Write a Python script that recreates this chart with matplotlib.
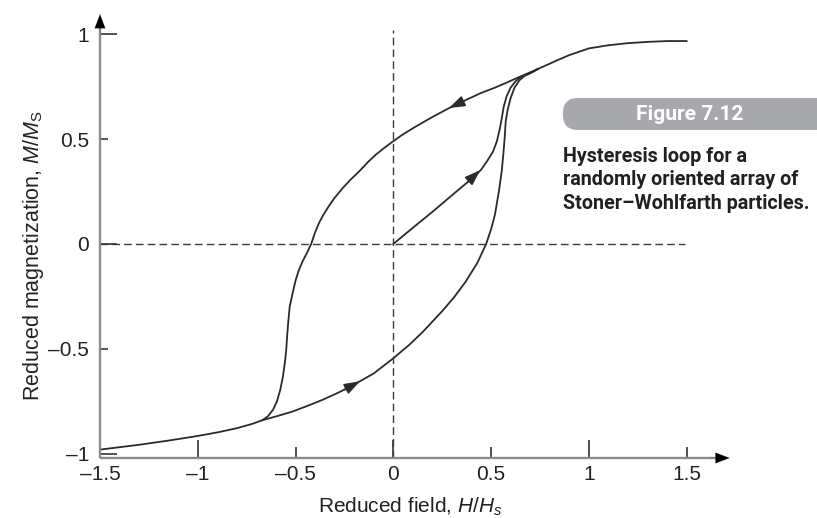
import matplotlib
matplotlib.use('Agg')
import matplotlib.pyplot as plt
from matplotlib.patches import FancyBboxPatch

plt.rcParams['font.family'] = ['Liberation Sans', 'DejaVu Sans']
plt.rcParams['mathtext.fontset'] = 'custom'
plt.rcParams['mathtext.rm'] = 'Liberation Sans'
plt.rcParams['mathtext.it'] = 'Liberation Sans:italic'

# upper branch, field going down from +1.5 to -1.5 (shares both tails)
upper_h = [1.50, 1.40, 1.30, 1.20, 1.10, 1.00, 0.90, 0.84, 0.79, 0.74, 0.68, 0.63, 0.57,
           0.52, 0.45, 0.38, 0.28, 0.20, 0.11, 0.046, 0.0, -0.05, -0.09, -0.13, -0.17,
           -0.22, -0.26, -0.30, -0.33, -0.36, -0.38, -0.40, -0.42, -0.44, -0.465, -0.485,
           -0.50, -0.515, -0.53, -0.537, -0.543, -0.548, -0.555, -0.565, -0.578, -0.595,
           -0.615, -0.64, -0.67, -0.72, -0.80, -0.90, -1.00, -1.15, -1.30, -1.50]
upper_m = [0.967, 0.967, 0.963, 0.957, 0.947, 0.932, 0.90, 0.876, 0.855, 0.834, 0.81, 0.79, 0.765,
           0.745, 0.72, 0.69, 0.645, 0.605, 0.557, 0.52, 0.49, 0.455, 0.425, 0.39, 0.35,
           0.305, 0.265, 0.22, 0.18, 0.135, 0.10, 0.055, 0.0, -0.04, -0.085, -0.13,
           -0.175, -0.235, -0.30, -0.37, -0.44, -0.51, -0.57, -0.635, -0.695, -0.75,
           -0.79, -0.82, -0.84, -0.857, -0.878, -0.898, -0.915, -0.937, -0.957, -0.98]

# lower branch, field going up, from the left closure point to the right one
lower_h = [-0.67, -0.60, -0.52, -0.44, -0.36, -0.28, -0.21, -0.10, 0.0, 0.08, 0.15, 0.25,
           0.31, 0.37, 0.43, 0.475, 0.50, 0.52, 0.54, 0.555, 0.563, 0.57, 0.575, 0.585,
           0.60, 0.62, 0.645, 0.67, 0.71, 0.74]
lower_m = [-0.84, -0.822, -0.80, -0.772, -0.742, -0.708, -0.675, -0.617, -0.545, -0.482, -0.42, -0.32,
           -0.255, -0.18, -0.09, 0.0, 0.07, 0.14, 0.25, 0.35, 0.43, 0.51, 0.585, 0.64,
           0.695, 0.745, 0.78, 0.80, 0.818, 0.834]

# initial magnetisation curve from the origin
init_h = [0.0, 0.10, 0.20, 0.30, 0.41, 0.45, 0.48, 0.51, 0.53, 0.545, 0.555, 0.565,
          0.58, 0.60, 0.625, 0.65, 0.70, 0.74]
init_m = [0.0, 0.077, 0.153, 0.232, 0.318, 0.355, 0.395, 0.44, 0.49, 0.55, 0.60, 0.655,
          0.705, 0.745, 0.775, 0.795, 0.815, 0.834]

# arrow heads on the curves: (tail h, tail m, tip h, tip m)
arrows = [(0.36, 0.681, 0.285, 0.648),
          (0.38, 0.295, 0.445, 0.352),
          (-0.25, -0.695, -0.17, -0.654)]

xticks_major = [-1, 0, 1]
xticks_minor = [-1.5, -0.5, 0.5, 1.5]
yticks_major = [-1, 0, 1]
yticks_minor = [-0.5, 0.5]

caption = ['Hysteresis loop for a', 'randomly oriented array of', 'Stoner\u2013Wohlfarth particles.']
tag = 'Figure 7.12'


def lab(v):
    s = ('%g' % v)
    return s.replace('-', '\u2013')


fig = plt.figure(figsize=(8.17, 5.18), dpi=100)
ax = fig.add_axes([100 / 817, 60 / 518, (733.5 - 100) / 817, (508 - 60) / 518])
ax.set_xlim(-1.5, 1.74)
ax.set_ylim(-1.02, 1.115)
for s in ax.spines.values():
    s.set_visible(False)

line_c = '#2b2b2b'
ax.plot(upper_h, upper_m, color=line_c, lw=1.3)
ax.plot(lower_h, lower_m, color=line_c, lw=1.3)
ax.plot(init_h, init_m, color=line_c, lw=1.3)

for t in arrows:
    ax.annotate('', xy=(t[2], t[3]), xytext=(t[0], t[1]),
                arrowprops=dict(arrowstyle='-|>,head_length=0.95,head_width=0.33',
                                color=line_c, lw=1.2, shrinkA=0, shrinkB=0))

# dashed guide lines
ax.plot([-1.5, 1.49], [0, 0], color='#3a3a3a', lw=1.0, dashes=(5.5, 3))
ax.plot([0, 0], [-1.02, 1.02], color='#3a3a3a', lw=1.0, dashes=(5.5, 3))

# axes with arrow heads
axis_c = '#8c8c8c'
ax.plot([-1.5, 1.66], [-1.02, -1.02], color=axis_c, lw=1.7, clip_on=False, solid_capstyle='butt')
ax.plot([-1.5, -1.5], [-1.02, 1.05], color=axis_c, lw=1.7, clip_on=False, solid_capstyle='butt')
ax.annotate('', xy=(1.72, -1.02), xytext=(1.62, -1.02),
            arrowprops=dict(arrowstyle='-|>,head_length=1.0,head_width=0.38', color='black',
                            lw=0.1, shrinkA=0, shrinkB=0), annotation_clip=False)
ax.annotate('', xy=(-1.5, 1.095), xytext=(-1.5, 1.0),
            arrowprops=dict(arrowstyle='-|>,head_length=1.0,head_width=0.38', color='black',
                            lw=0.1, shrinkA=0, shrinkB=0), annotation_clip=False)

tick_c = '#222222'
ax.set_xticks(xticks_major, labels=[lab(v) for v in xticks_major])
ax.set_xticks(xticks_minor, labels=[lab(v) for v in xticks_minor], minor=True)
ax.set_yticks(yticks_major, labels=[lab(v) for v in yticks_major])
ax.set_yticks(yticks_minor, labels=[lab(v) for v in yticks_minor], minor=True)
ax.tick_params(which='both', direction='in', colors=tick_c, labelsize=15, labelcolor=tick_c)
ax.tick_params(axis='x', which='major', length=13, width=1.1, pad=5)
ax.tick_params(axis='x', which='minor', length=8, width=1.1, pad=5)
ax.tick_params(axis='y', which='major', length=12, width=1.1, pad=8)
ax.tick_params(axis='y', which='minor', length=6, width=1.1, pad=8)

fig.text(410 / 817, 1 - 507 / 518, r'Reduced field, $H/H_s$', fontsize=15, color=tick_c,
         ha='center', va='center')
fig.text(34 / 817, 1 - 256 / 518, r'Reduced magnetization, $M/M_\mathrm{S}$', fontsize=15.5,
         color=tick_c, ha='center', va='center', rotation=90)

# figure tag and caption, in a narrow bold face sized to the reference widths
box = FancyBboxPatch((5.63, 3.88), 2.9, 0.32, boxstyle='round,pad=0,rounding_size=0.15',
                     transform=fig.dpi_scale_trans, facecolor='#a6a8ab', edgecolor='none')
fig.patches.append(box)
cap_font = ['Roboto', 'DejaVu Sans']
renderer = fig.canvas.get_renderer()

tag_t = fig.text(6.90, 4.04, tag, transform=fig.dpi_scale_trans, fontsize=15,
                 family=cap_font, weight='bold', color='white', ha='center', va='center')
w = tag_t.get_window_extent(renderer).width
tag_t.set_fontsize(15 * 108 / w)

base_y = [162, 185, 209]
cap_texts = []
for txt, yy in zip(caption, base_y):
    cap_texts.append(fig.text(5.63, (518 - yy) / 100, txt, transform=fig.dpi_scale_trans,
                              fontsize=16, family=cap_font, weight='bold', color='#231f20',
                              ha='left', va='baseline'))
w = cap_texts[2].get_window_extent(renderer).width
for t in cap_texts:
    t.set_fontsize(16 * 247 / w)

fig.savefig('out.png', dpi=100)
